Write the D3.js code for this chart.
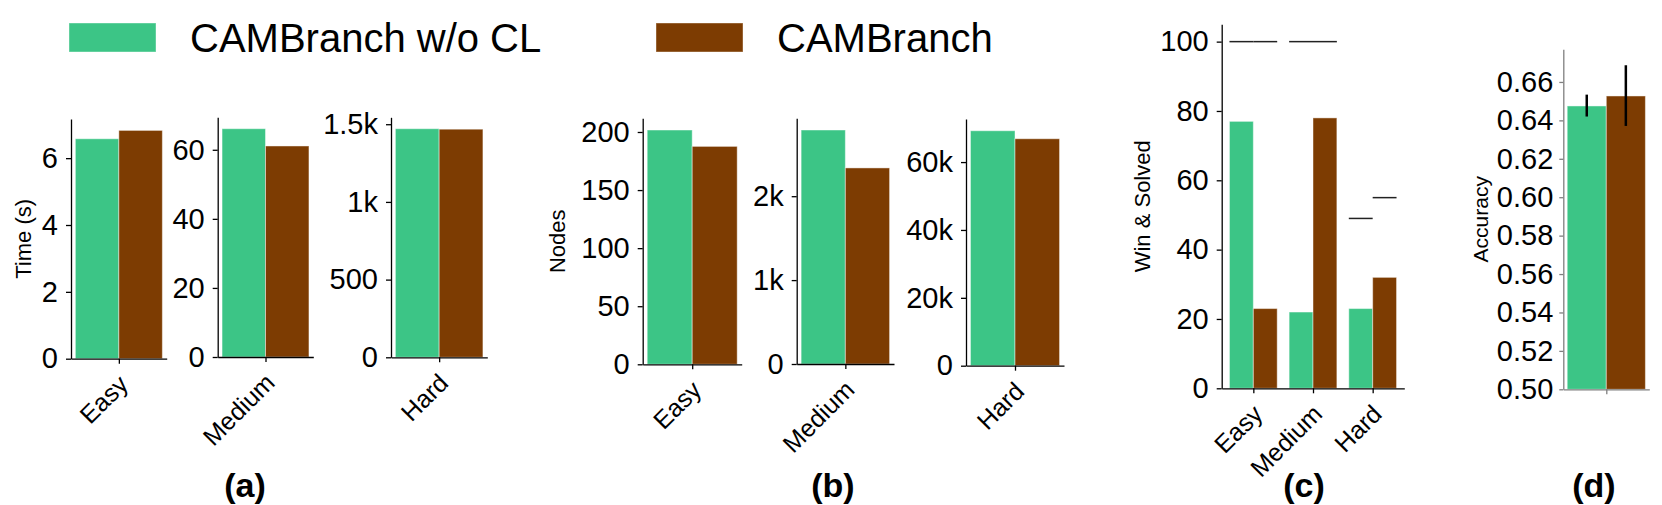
<!DOCTYPE html>
<html>
<head>
<meta charset="utf-8">
<script src="https://cdn.jsdelivr.net/npm/d3@7"></script>
<style>
  body { margin: 0; background: #fff; }
  svg { display: block; font-family: "Liberation Sans", Arial, Helvetica, sans-serif; }
</style>
</head>
<body>
<svg id="chart" width="1662" height="505"></svg>
<script>
const difficulties = ["Easy", "Medium", "Hard"];
const methods = ["CAMBranch w/o CL", "CAMBranch"];
const colors = ["#3cc586", "#7d3c02"];

// (a) solving time
const timeWoCL = [6.58, 66.1, 1471];
const timeCAM = [6.83, 61.1, 1468];
const timeTicks = [[0, 2, 4, 6], [0, 20, 40, 60], [0, 500, 1000, 1500]];

// (b) nodes
const nodesWoCL = [201.7, 2789, 69230];
const nodesCAM = [187.6, 2337, 66870];
const nodesTicks = [[0, 50, 100, 150, 200], [0, 1000, 2000], [0, 20000, 40000, 60000]];

// (c) wins (bars) and solved (lines)
const winWoCL = [77, 22, 23];
const winCAM = [23, 78, 32];
const solvedWoCL = [100, 100, 49];
const solvedCAM = [100, 100, 55];
const winTicks = [0, 20, 40, 60, 80, 100];

// (d) accuracy with error bars
const accMean = [0.6475, 0.6527];
const accLow = [0.642, 0.6371];
const accHigh = [0.6534, 0.6687];
const accTicks = [0.5, 0.52, 0.54, 0.56, 0.58, 0.6, 0.62, 0.64, 0.66];

const panelLabels = ["(a)", "(b)", "(c)", "(d)"];

const svg = d3.select("#chart");
const fmtK = (v) => (v >= 1000 ? v / 1000 + "k" : String(v));

function styleAxis(g, color, size) {
  g.attr("font-family", null).attr("font-size", size);
  g.selectAll("path, line").attr("stroke", color).attr("stroke-width", 1.3);
  g.selectAll("text").attr("fill", "#000");
}

// one set of axes: cats are category labels, series[m][c] are bar values
function drawAxes(o) {
  const x = d3.scaleLinear().domain(o.xDomain).range([o.x0, o.x1]);
  const y = d3.scaleLinear().domain(o.yDomain).range([o.y1, o.y0]);
  const g = svg.append("g");
  const axisColor = o.axisColor || "#000";

  // bars
  o.series.forEach((vals, m) => {
    g.selectAll(null)
      .data(vals)
      .join("rect")
      .attr("x", (d, c) => x(c + (m - 1) * 0.4))
      .attr("width", (d, c) => x(c + m * 0.4) - x(c + (m - 1) * 0.4))
      .attr("y", (d) => y(d))
      .attr("height", (d) => y(o.yDomain[0]) - y(d))
      .attr("fill", colors[m])
      .attr("stroke", "#fff")
      .attr("stroke-opacity", 0.45)
      .attr("stroke-width", 1);
  });

  if (o.extra) o.extra(g, x, y);

  // y axis
  g.append("g")
    .attr("transform", `translate(${o.x0},0)`)
    .call(
      d3.axisLeft(y).tickValues(o.ticks).tickFormat(o.fmt || fmtK)
        .tickSize(o.tickSize || 5).tickPadding(o.tickPad || 8).tickSizeOuter(0)
    )
    .call((a) => styleAxis(a, axisColor, 29));

  // x axis, labels turned 45 degrees
  const xa = g.append("g")
    .attr("transform", `translate(0,${o.y1})`)
    .call(
      d3.axisBottom(x).tickValues(o.cats.map((d, i) => i))
        .tickFormat((i) => o.cats[i] || "").tickSize(5).tickSizeOuter(0)
    )
    .call((a) => styleAxis(a, axisColor, 25));
  xa.selectAll("text")
    .attr("x", 0)
    .attr("y", 0)
    .attr("dy", "0.58em")
    .attr("transform", "translate(0,17) rotate(-45)")
    .attr("text-anchor", "end");

  if (o.ylabel) {
    g.append("text")
      .attr("transform", `translate(${o.ylabelX},${(o.y0 + o.y1) / 2}) rotate(-90)`)
      .attr("text-anchor", "middle")
      .attr("dy", "0.35em")
      .attr("font-size", o.ylabelSize || 22)
      .text(o.ylabel);
  }
}

// (a) Time, one axes per difficulty
const aBoxes = [[71, 166.7, 119, 358.7], [217.7, 313.3, 117.3, 357], [391, 487.3, 117.3, 357.3]];
difficulties.forEach((dName, k) => {
  const [x0, x1, y0, y1] = aBoxes[k];
  drawAxes({
    x0, x1, y0, y1,
    xDomain: [-0.44, 0.44],
    yDomain: [0, Math.max(timeWoCL[k], timeCAM[k]) * 1.05],
    cats: [dName],
    series: [[timeWoCL[k]], [timeCAM[k]]],
    ticks: timeTicks[k],
    ylabel: k === 0 ? "Time (s)" : null,
    ylabelX: 23,
  });
});

// (b) Nodes
const bBoxes = [[642.7, 741.7, 118.3, 364.3], [796.7, 894, 118.3, 364], [966, 1064, 119, 365.7]];
difficulties.forEach((dName, k) => {
  const [x0, x1, y0, y1] = bBoxes[k];
  drawAxes({
    x0, x1, y0, y1,
    xDomain: [-0.44, 0.44],
    yDomain: [0, Math.max(nodesWoCL[k], nodesCAM[k]) * 1.05],
    cats: [dName],
    series: [[nodesWoCL[k]], [nodesCAM[k]]],
    ticks: nodesTicks[k],
    ylabel: k === 0 ? "Nodes" : null,
    ylabelX: 557,
  });
});

// (c) Win & Solved
drawAxes({
  x0: 1221.7, x1: 1404.3, y0: 24.3, y1: 388.3,
  xDomain: [-0.53, 2.53],
  yDomain: [0, 105],
  cats: difficulties,
  series: [winWoCL, winCAM],
  ticks: winTicks,
  ylabel: "Win & Solved",
  ylabelX: 1142,
  extra: (g, x, y) => {
    [solvedWoCL, solvedCAM].forEach((vals, m) => {
      g.selectAll(null)
        .data(vals)
        .join("line")
        .attr("x1", (d, c) => x(c + (m - 1) * 0.4))
        .attr("x2", (d, c) => x(c + m * 0.4))
        .attr("y1", (d) => y(d))
        .attr("y2", (d) => y(d))
        .attr("stroke", "#222")
        .attr("stroke-width", 1.5);
    });
  },
});

// (d) Accuracy
drawAxes({
  x0: 1563.3, x1: 1649.3, y0: 49.3, y1: 389.3,
  xDomain: [-0.44, 0.44],
  yDomain: [0.5, 0.677],
  cats: [""],
  series: [[accMean[0]], [accMean[1]]],
  ticks: accTicks,
  fmt: d3.format(".2f"),
  tickSize: 4,
  tickPad: 6,
  axisColor: "#7f7f7f",
  ylabel: "Accuracy",
  ylabelX: 1481,
  ylabelSize: 21,
  extra: (g, x, y) => {
    g.selectAll(null)
      .data(accMean)
      .join("line")
      .attr("x1", (d, m) => x((m - 0.5) * 0.4))
      .attr("x2", (d, m) => x((m - 0.5) * 0.4))
      .attr("y1", (d, m) => y(accLow[m]))
      .attr("y2", (d, m) => y(accHigh[m]))
      .attr("stroke", "#000")
      .attr("stroke-width", 2.5);
  },
});

// legend
const legendX = [69, 656];
const legend = svg.append("g").selectAll("g").data(methods).join("g")
  .attr("transform", (d, i) => `translate(${legendX[i]},0)`);
legend.append("rect")
  .attr("x", 0).attr("y", 23).attr("width", 87).attr("height", 29)
  .attr("fill", (d, i) => colors[i])
  .attr("stroke", "#fff").attr("stroke-opacity", 0.4);
legend.append("text")
  .attr("x", 121).attr("y", 52)
  .attr("font-size", 40)
  .text((d) => d);

// panel captions
const captionX = [245, 833, 1304, 1594];
svg.append("g").selectAll("text").data(panelLabels).join("text")
  .attr("x", (d, i) => captionX[i])
  .attr("y", 497)
  .attr("text-anchor", "middle")
  .attr("font-size", 34)
  .attr("font-weight", "bold")
  .text((d) => d);
</script>
</body>
</html>
